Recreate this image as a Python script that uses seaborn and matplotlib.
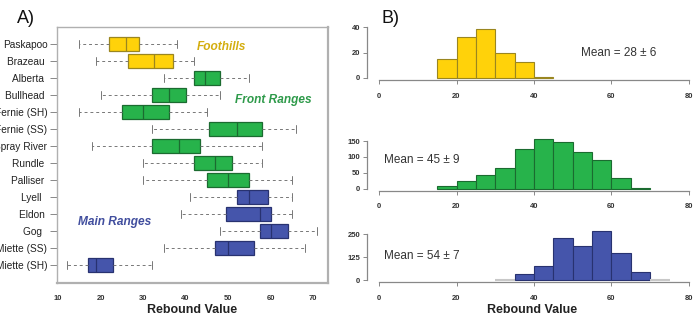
import numpy as np
import pandas as pd
import matplotlib
matplotlib.use("Agg")
import matplotlib.pyplot as plt
import seaborn as sns

# ---- data: panel A (five-number summaries) ----
sites = ["Paskapoo", "Brazeau ", "Alberta ", "Bullhead ", "Fernie (SH)", "Fernie (SS)",
         "Spray River", "Rundle ", "Palliser ", "Lyell  ", "Eldon ", "Gog  ",
         "Miette (SS)", "Miette (SH)"]
region = ["Foothills", "Foothills", "Front Ranges", "Front Ranges", "Front Ranges",
          "Front Ranges", "Front Ranges", "Front Ranges", "Front Ranges",
          "Main Ranges", "Main Ranges", "Main Ranges", "Main Ranges", "Main Ranges"]
wlo = [15, 19, 35, 20, 15, 32, 18, 30, 30, 41, 39, 48, 35, 12]
q1 = [22, 26.5, 42, 32, 25, 45.5, 32, 42, 45, 52, 49.5, 57.5, 47, 17]
med = [26, 32.5, 44.5, 36, 30, 52, 38.5, 47, 50, 55, 57.5, 60, 50, 19]
q3 = [29, 37, 48, 40, 36, 58, 43.5, 51, 55, 59.5, 60, 64, 56, 23]
whi = [38, 42, 55, 48, 45, 66, 58, 58, 65, 65, 65, 71, 68, 32]

# ---- data: panel B (histogram counts, 5-unit bins) ----
foot_bins = [15, 20, 25, 30, 35, 40]
foot_counts = [15, 32, 39, 20, 13, 1]
front_bins = [15, 20, 25, 30, 35, 40, 45, 50, 55, 60, 65]
front_counts = [10, 25, 44, 64, 126, 158, 146, 115, 89, 34, 3]
main_bins = [30, 35, 40, 45, 50, 55, 60, 65, 70]
main_counts = [0, 36, 80, 230, 188, 268, 150, 47, 0]

fill = {"Foothills": "#FFD20A", "Front Ranges": "#27B34B", "Main Ranges": "#4555AB"}
edge = {"Foothills": "#9A8620", "Front Ranges": "#1B6B30", "Main Ranges": "#283270"}
label_col = {"Foothills": "#D4AE10", "Front Ranges": "#2E9A4A", "Main Ranges": "#414E9E"}

sns.set_style("white")
plt.rcParams["font.family"] = ["Liberation Sans", "DejaVu Sans"]

# long table: min, q1, median, q3, max -> with whis=(0,100) seaborn reproduces the box exactly
rows = []
for i, s in enumerate(sites):
    for v in (wlo[i], q1[i], med[i], q3[i], whi[i]):
        rows.append({"site": s, "value": v, "region": region[i]})
df = pd.DataFrame(rows)

fig = plt.figure(figsize=(6.95, 3.18), dpi=100)

# ---------------- panel A ----------------
ax = fig.add_axes([57 / 695, 1 - 283 / 318, 271 / 695, 256 / 318])
for reg in fill:
    sub = df[df["region"] == reg]
    sns.boxplot(data=sub, x="value", y="site", order=sites, ax=ax, whis=(0, 100),
                width=0.88, color=fill[reg], linecolor=edge[reg], linewidth=0.9,
                saturation=1, showfliers=False,
                whiskerprops=dict(color="#777777", linestyle=(0, (3, 3)), linewidth=0.7),
                capprops=dict(color="#777777", linewidth=0.7))
ax.set_xlim(9.76, 73.5)
ax.set_ylim(14.06, -1.0)
ax.set_xticks([10, 20, 30, 40, 50, 60, 70])
ax.set_ylabel("")
ax.set_xlabel("Rebound Value", fontsize=9, fontweight="bold", color="#222222", labelpad=1)
ax.tick_params(axis="x", labelsize=5.5, length=3, color="#888888", width=0.7,
               labelcolor="#333333", pad=6)
for t in ax.get_xticklabels():
    t.set_fontweight("bold")
ax.tick_params(axis="y", labelsize=7.3, length=5, color="#888888", width=0.7,
               labelcolor="#222222", pad=2, left=True)
for sp in ax.spines.values():
    sp.set_color("#b0b0b0")
    sp.set_linewidth(1.0)
ax.spines["right"].set_linewidth(1.6)
ax.spines["bottom"].set_linewidth(1.6)

ax.text(48.4, 0.15, "Foothills", color=label_col["Foothills"], fontsize=8.6,
        fontweight="bold", fontstyle="italic", ha="center", va="center")
ax.text(60.6, 3.3, "Front Ranges", color=label_col["Front Ranges"], fontsize=8.6,
        fontweight="bold", fontstyle="italic", ha="center", va="center")
ax.text(23.4, 10.5, "Main Ranges", color=label_col["Main Ranges"], fontsize=8.6,
        fontweight="bold", fontstyle="italic", ha="center", va="center")

fig.text(17 / 695, 1 - 23 / 318, "A)", fontsize=13, color="#111111", va="baseline")
fig.text(382 / 695, 1 - 23 / 318, "B)", fontsize=13, color="#111111", va="baseline")

# ---------------- panel B ----------------
hists = [
    (foot_bins, foot_counts, "Foothills", [0.7484, 0.172], (-1.6, 41.6), [0, 20, 40],
     (52.2, 20), "Mean = 28 ± 6"),
    (front_bins, front_counts, "Front Ranges", [0.4003, 0.1704], (-6.3, 164.3),
     [0, 50, 100, 150], (1.3, 90), "Mean = 45 ± 9"),
    (main_bins, main_counts, "Main Ranges", [0.1123, 0.1676], (-10.9, 279),
     [0, 125, 250], (1.3, 130), "Mean = 54 ± 7"),
]
for bins, counts, reg, (b, h), ylim, yt, (tx, ty), label in hists:
    hx = fig.add_axes([367 / 695, b, 328 / 695, h])
    centers = np.array(bins) + 2.5
    sns.histplot(x=centers, weights=counts, binwidth=5,
                 binrange=(bins[0], bins[-1] + 5), ax=hx, color=fill[reg],
                 edgecolor=edge[reg], linewidth=0.8, alpha=1)
    for p in hx.patches:
        if p.get_height() == 0:
            p.set_edgecolor("#c8c8c8")
            p.set_linewidth(1.5)
    hx.set_xlim(-3.1, 81.55)
    hx.set_ylim(*ylim)
    hx.set_xticks([0, 20, 40, 60, 80])
    hx.set_yticks(yt)
    hx.set_ylabel("")
    hx.set_xlabel("")
    hx.spines["top"].set_visible(False)
    hx.spines["right"].set_visible(False)
    hx.spines["left"].set_bounds(0, yt[-1])
    hx.spines["bottom"].set_bounds(0, 80)
    for sp in ("left", "bottom"):
        hx.spines[sp].set_color("#888888")
        hx.spines[sp].set_linewidth(0.9)
    hx.tick_params(labelsize=5.5, length=3, color="#888888", width=0.7,
                   labelcolor="#333333", left=True, bottom=True)
    hx.tick_params(axis="x", pad=6)
    hx.tick_params(axis="y", pad=2)
    for t in hx.get_xticklabels() + hx.get_yticklabels():
        t.set_fontweight("bold")
    hx.patch.set_alpha(0)
    hx.text(tx, ty, label, fontsize=8.5, color="#333333", ha="left", va="center")

fig.text(532 / 695, 1 - 310 / 318, "Rebound Value", fontsize=9, fontweight="bold",
         color="#222222", ha="center", va="center")

fig.savefig("out.png", dpi=100)
plt.close(fig)
